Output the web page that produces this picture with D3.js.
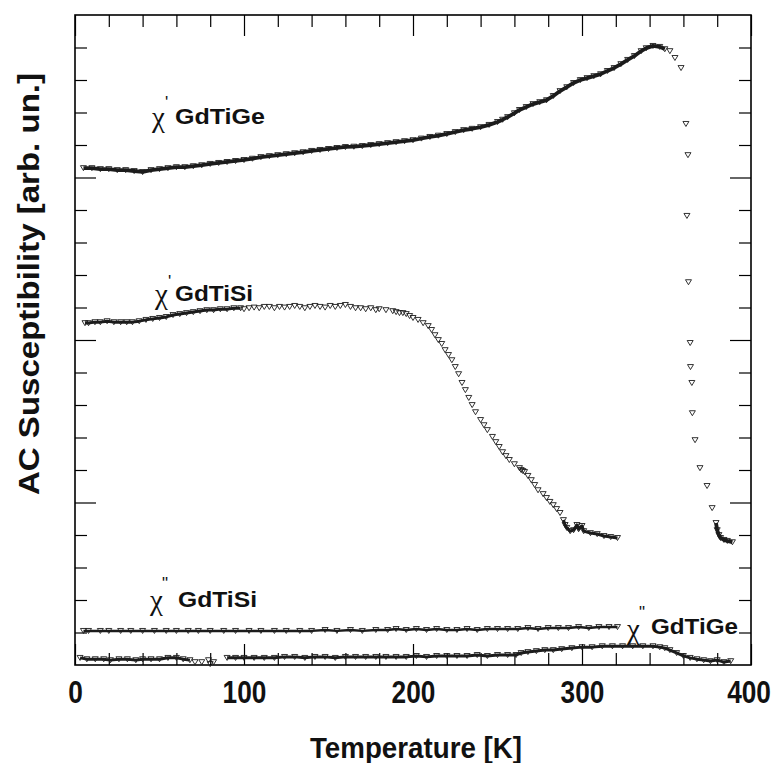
<!DOCTYPE html>
<html><head><meta charset="utf-8">
<script src="https://cdn.jsdelivr.net/npm/d3@7"></script>
<style>body{margin:0;background:#fff}</style>
</head><body>
<svg id="chart" width="776" height="763"></svg>
<script>
// ---------- data (T in K, susceptibility in arb. units) ----------
const xMajorTicks = [0, 100, 200, 300, 400];
const xMinorTicks = [20,40,60,80,120,140,160,180,220,240,260,280,320,340,360,380];
const yMajorTicks = [5, 10, 15];
const yMinorTicks = [1,2,3,4,6,7,8,9,11,12,13,14,16,17,18,19];

const chiRealGdTiGe = [[5,15.29],[10,15.29],[15,15.26],[20,15.26],[25,15.23],[30,15.23],[35,15.20],[40,15.17],[45,15.23],[50,15.26],[55,15.29],[60,15.32],[65,15.32],[70,15.35],[75,15.38],[80,15.42],[85,15.45],[90,15.48],[95,15.51],[100,15.54],[105,15.58],[110,15.63],[115,15.66],[120,15.69],[125,15.72],[130,15.75],[135,15.78],[140,15.82],[145,15.85],[150,15.88],[155,15.91],[160,15.94],[165,15.95],[170,15.97],[175,16.00],[180,16.03],[185,16.06],[190,16.09],[195,16.12],[200,16.15],[205,16.20],[210,16.25],[215,16.29],[220,16.34],[225,16.40],[230,16.46],[235,16.50],[240,16.55],[245,16.62],[250,16.71],[253,16.78],[256,16.86],[260,16.98],[263,17.08],[267,17.17],[271,17.26],[275,17.32],[279,17.38],[283,17.51],[287,17.66],[291,17.78],[295,17.91],[299,18.00],[303,18.06],[307,18.12],[311,18.18],[315,18.28],[319,18.37],[323,18.49],[327,18.62],[331,18.74],[335,18.89],[338,18.98],[342,19.05],[346,19.02],[349,18.95],[352,18.89],[355,18.68],[358.6,18.37],[361.5,16.65],[362.7,15.69],[362.1,13.82],[363,11.78],[364,9.91],[364.2,9.17],[365,8.68],[365.3,7.75],[366.9,6.92],[369.8,6.06],[374,5.51],[377,4.83],[379.3,4.37],[380,4.15],[381,4.00],[382,3.91],[384,3.85],[386,3.82],[389,3.78]];
const chiRealGdTiGeBands = [[5,349],[379,390]];

const chiRealGdTiSi = [[5.9,10.52],[8,10.52],[11.8,10.55],[15,10.55],[19,10.58],[23,10.55],[27,10.55],[30.6,10.55],[34,10.55],[38,10.58],[42,10.62],[46,10.65],[50,10.68],[54,10.71],[58,10.77],[62,10.80],[66,10.83],[70,10.86],[74,10.89],[78,10.92],[82,10.92],[86,10.95],[90,10.95],[94,10.98],[98,10.98],[100,10.95],[103,10.98],[106,11.00],[109,10.98],[112,11.02],[115,11.02],[118,10.98],[121,11.02],[124,11.00],[127,11.02],[130,11.05],[133,11.02],[136,10.98],[139,11.02],[142,11.05],[145,11.02],[148,11.00],[151,11.05],[154,11.02],[157,11.05],[160,11.08],[163,11.02],[166,10.98],[169,10.98],[172,10.95],[175,10.98],[178,10.92],[180,10.95],[184,10.92],[188,10.89],[190,10.86],[192,10.83],[194,10.83],[196,10.80],[198,10.74],[200,10.68],[203,10.62],[206,10.52],[209,10.43],[211,10.31],[213,10.15],[215,10.00],[217,9.88],[219,9.69],[221,9.54],[223,9.38],[225,9.17],[227,8.95],[229,8.68],[231,8.46],[233,8.22],[235,8.00],[237,7.78],[240,7.54],[242,7.38],[244,7.23],[247,7.02],[249,6.86],[251,6.71],[253,6.55],[255,6.43],[257,6.31],[260,6.18],[263,6.06],[264,6.00],[265,5.97],[266,5.94],[268,5.82],[270,5.69],[272,5.54],[274,5.38],[277,5.26],[279,5.14],[281,5.02],[283,4.92],[285,4.80],[287,4.68],[289,4.46],[290,4.31],[291,4.22],[293,4.12],[295,4.15],[297,4.31],[298,4.18],[300,4.28],[301,4.12],[305,4.06],[309,4.03],[313,3.97],[317,3.94],[321,3.91]];
const chiRealGdTiSiBands = [[5,98],[288,322]];

const chiImagGdTiSi = [[5,1.05],[8,1.05],[15,1.05],[20,1.05],[27,1.05],[33,1.05],[40,1.05],[47,1.05],[54,1.05],[60,1.05],[67,1.05],[73,1.05],[80,1.05],[88,1.05],[95,1.05],[103,1.05],[110,1.05],[118,1.05],[125,1.05],[133,1.05],[140,1.05],[148,1.08],[155,1.05],[163,1.08],[170,1.05],[178,1.08],[185,1.08],[190,1.11],[196,1.08],[202,1.11],[208,1.08],[214,1.11],[220,1.08],[226,1.08],[232,1.11],[238,1.08],[244,1.11],[250,1.11],[256,1.11],[262,1.11],[268,1.14],[274,1.11],[280,1.14],[286,1.14],[292,1.14],[298,1.17],[304,1.14],[310,1.17],[316,1.17],[321,1.17]];
const chiImagGdTiSiBands = [[5,322]];

const chiImagGdTiGe = [[3,0.22],[7,0.18],[12,0.18],[17,0.18],[21,0.15],[26,0.18],[31,0.18],[36,0.15],[40,0.18],[45,0.18],[50,0.18],[55,0.22],[60,0.22],[64,0.18],[68,0.15],[71,0.09],[75,0.09],[79,0.15],[80,0.03],[82,0.09],[90,0.22],[95,0.22],[100,0.22],[106,0.22],[112,0.22],[118,0.22],[124,0.25],[130,0.25],[136,0.22],[142,0.25],[148,0.25],[154,0.22],[160,0.25],[166,0.25],[172,0.25],[178,0.25],[184,0.25],[190,0.25],[196,0.25],[202,0.28],[208,0.25],[214,0.28],[220,0.28],[226,0.28],[232,0.28],[238,0.31],[244,0.28],[250,0.31],[256,0.31],[261,0.31],[264,0.37],[268,0.40],[273,0.43],[278,0.46],[283,0.46],[288,0.49],[294,0.52],[300,0.55],[306,0.55],[312,0.58],[318,0.58],[324,0.58],[330,0.58],[336,0.58],[342,0.58],[346,0.55],[349,0.52],[352,0.46],[356,0.37],[360,0.28],[364,0.22],[368,0.18],[372,0.15],[376,0.12],[380,0.15],[384,0.09],[388,0.12]];
const chiImagGdTiGeBands = [[3,68],[90,390]];

const xTitle = "Temperature [K]";
const yTitle = "AC Susceptibility [arb. un.]";

// ---------- layout ----------
const svg = d3.select("#chart");
const frame = {left: 75, right: 751, top: 15, bottom: 665};
const x = d3.scaleLinear().domain([0, 400]).range([frame.left, frame.right]);
const y = d3.scaleLinear().domain([0, 20]).range([frame.bottom, frame.top]);
const narrow = "'Liberation Sans Narrow','Arial Narrow','Liberation Sans',Arial,sans-serif";
const ink = "#1c1c1c";

function tickAxis(axisFn, pos, vals, len, isX) {
  const g = svg.append("g")
    .attr("transform", isX ? `translate(0,${pos})` : `translate(${pos},0)`)
    .call(axisFn(isX ? x : y).tickValues(vals).tickSizeInner(-len).tickSizeOuter(0).tickFormat(""));
  g.select(".domain").remove();
  g.selectAll("line").attr("stroke", "#000").attr("stroke-width", 1.2);
}
tickAxis(d3.axisTop, frame.top, xMinorTicks, 12, true);
tickAxis(d3.axisTop, frame.top, xMajorTicks, 21, true);
tickAxis(d3.axisBottom, frame.bottom, xMinorTicks, 12, true);
tickAxis(d3.axisBottom, frame.bottom, xMajorTicks, 21, true);
tickAxis(d3.axisLeft, frame.left, yMinorTicks, 12, false);
tickAxis(d3.axisLeft, frame.left, yMajorTicks, 21, false);
tickAxis(d3.axisRight, frame.right, yMinorTicks, 12, false);
tickAxis(d3.axisRight, frame.right, yMajorTicks, 21, false);

svg.append("rect")
  .attr("x", frame.left).attr("y", frame.top)
  .attr("width", frame.right - frame.left).attr("height", frame.bottom - frame.top)
  .attr("fill", "none").attr("stroke", "#000").attr("stroke-width", 1.6);

// tick labels (condensed bold, horizontally compressed)
const lab = svg.append("g").attr("transform", `translate(0,${frame.bottom})`)
  .call(d3.axisBottom(x).tickValues(xMajorTicks).tickSize(0).tickPadding(15).tickFormat(d3.format("d")));
lab.select(".domain").remove();
lab.selectAll("text").attr("font-family", narrow).attr("font-weight", "bold")
  .attr("font-size", 32).attr("fill", "#111")
  .attr("dx", (d, i, n) => i === n.length - 1 ? -3 : 0)
  .attr("transform", "scale(0.82,1)");

// axis titles
svg.append("text").attr("x", 416).attr("y", 758).attr("text-anchor", "middle")
  .attr("font-family", narrow).attr("font-weight", "bold").attr("font-size", 30).attr("fill", "#111")
  .attr("textLength", 212).attr("lengthAdjust", "spacingAndGlyphs").text(xTitle);
svg.append("text").attr("transform", "translate(39,284) rotate(-90)").attr("text-anchor", "middle")
  .attr("font-family", narrow).attr("font-weight", "bold").attr("font-size", 30).attr("fill", "#111")
  .attr("textLength", 422).attr("lengthAdjust", "spacingAndGlyphs").text(yTitle);

// ---------- series ----------
const tri = "M-3,-2.4L3,-2.4L0,2.6Z";
const line = d3.line().x(d => x(d[0])).y(d => y(d[1]));
function drawSeries(data, bands, width) {
  const g = svg.append("g");
  bands.forEach(([a, b]) => {
    const seg = data.filter(d => d[0] >= a && d[0] <= b);
    if (seg.length > 1) {
      g.append("path").attr("d", line(seg)).attr("fill", "none")
        .attr("stroke", ink).attr("stroke-width", width).attr("stroke-linejoin", "round");
    }
  });
  g.selectAll("path.m").data(data).join("path").attr("class", "m")
    .attr("d", tri).attr("transform", d => `translate(${x(d[0])},${y(d[1])})`)
    .attr("fill", "none").attr("stroke", ink).attr("stroke-width", 0.9);
}
drawSeries(chiRealGdTiGe, chiRealGdTiGeBands, 3.8);
drawSeries(chiRealGdTiSi, chiRealGdTiSiBands, 3);
drawSeries(chiImagGdTiSi, chiImagGdTiSiBands, 2.5);
drawSeries(chiImagGdTiGe, chiImagGdTiGeBands, 3);

// ---------- annotations (χ with prime marks, then compound name) ----------
const annotations = [
  {prime: "'",  name: "GdTiGe", chiX: 152, chiY: 127, pdx: 0,  pdy: -19, nX: 175, nY: 124, len: 90},
  {prime: "'",  name: "GdTiSi", chiX: 155, chiY: 304, pdx: 0,  pdy: -17, nX: 175, nY: 301, len: 78},
  {prime: "\"", name: "GdTiSi", chiX: 150, chiY: 610, pdx: -1, pdy: -21, nX: 178, nY: 607, len: 79},
  {prime: "\"", name: "GdTiGe", chiX: 627, chiY: 639, pdx: -1, pdy: -21, nX: 651, nY: 634, len: 87}
];
annotations.forEach(a => {
  const t = svg.append("text").attr("x", a.chiX).attr("y", a.chiY).attr("fill", "#111");
  t.append("tspan").attr("font-family", "'Liberation Serif','DejaVu Serif',serif").attr("font-size", 29).text("χ");
  t.append("tspan").attr("font-family", "'Liberation Sans',Arial,sans-serif").attr("font-size", 17)
    .attr("dx", a.pdx).attr("dy", a.pdy).text(a.prime);
  svg.append("text").attr("x", a.nX).attr("y", a.nY)
    .attr("font-family", narrow).attr("font-weight", "bold").attr("font-size", 22).attr("fill", "#111")
    .attr("textLength", a.len).attr("lengthAdjust", "spacingAndGlyphs").text(a.name);
});
</script>
</body></html>
